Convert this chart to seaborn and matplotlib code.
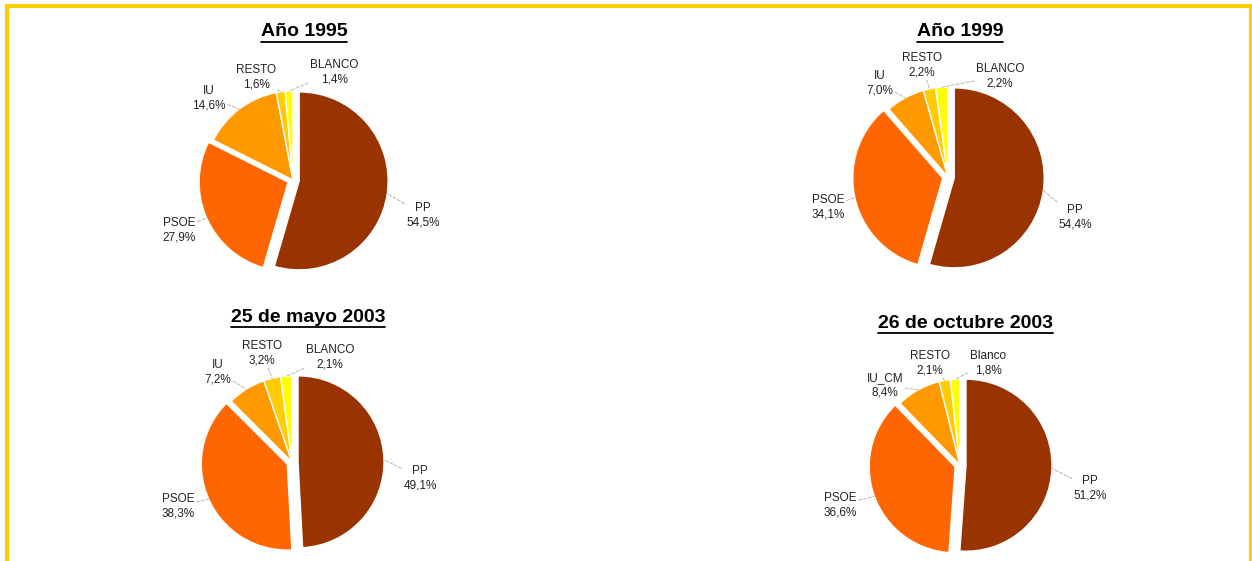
import numpy as np
import matplotlib
matplotlib.use("Agg")
import matplotlib.pyplot as plt
import seaborn as sns
from matplotlib.lines import Line2D
from matplotlib.patches import Rectangle

sns.set_style("white")
plt.rcParams['font.family'] = ['Liberation Sans', 'DejaVu Sans']

# ---- data ----
titles = ["Año 1995", "Año 1999", "25 de mayo 2003", "26 de octubre 2003"]
labels_1995 = ["PP", "PSOE", "IU", "RESTO", "BLANCO"]
values_1995 = [54.5, 27.9, 14.6, 1.6, 1.4]
labels_1999 = ["PP", "PSOE", "IU", "RESTO", "BLANCO"]
values_1999 = [54.4, 34.1, 7.0, 2.2, 2.2]
labels_may03 = ["PP", "PSOE", "IU", "RESTO", "BLANCO"]
values_may03 = [49.1, 38.3, 7.2, 3.2, 2.1]
labels_oct03 = ["PP", "PSOE", "IU_CM", "RESTO", "Blanco"]
values_oct03 = [51.2, 36.6, 8.4, 2.1, 1.8]
colors = ["#993300", "#FF6600", "#FF9900", "#FFCC00", "#FFFF00"]
explode = [0.07, 0.06, 0.0, 0.0, 0.0]

# ---- layout (pixels) ----
W, H = 1252, 561
fig = plt.figure(figsize=(W / 100, H / 100), dpi=100)

# label offsets: (dx right, dy up) in pixels from the pie centre
charts = [
    dict(labels=labels_1995, values=values_1995, center=(293, 180), r=89,
         title_xy=(304, 32),
         lab_off=[(130, -35), (-114, -50), (-84, 82), (-37, 103), (41, 108)]),
    dict(labels=labels_1999, values=values_1999, center=(948, 177), r=90,
         title_xy=(960, 32),
         lab_off=[(127, -40), (-120, -30), (-68, 94), (-26, 112), (52, 101)]),
    dict(labels=labels_may03, values=values_may03, center=(292, 462), r=86,
         title_xy=(308, 317),
         lab_off=[(128, -16), (-114, -44), (-74, 90), (-30, 109), (38, 105)]),
    dict(labels=labels_oct03, values=values_oct03, center=(960, 465), r=86,
         title_xy=(965, 323),
         lab_off=[(130, -23), (-120, -40), (-75, 80), (-30, 102), (28, 102)]),
]

AW, AH = 360, 260
for ch, title in zip(charts, titles):
    cx, cy = ch["center"]
    r = ch["r"]
    ax = fig.add_axes([(cx - AW / 2) / W, 1 - (cy + AH / 2) / H, AW / W, AH / H])
    wedges, _ = ax.pie(ch["values"], colors=colors, explode=explode,
                       startangle=90, counterclock=False,
                       wedgeprops=dict(edgecolor="white", linewidth=1.0))
    ax.set_xlim(-AW / 2 / r, AW / 2 / r)
    ax.set_ylim(-AH / 2 / r, AH / 2 / r)
    ax.set_aspect("equal")
    ax.axis("off")
    for w, lab, val, off, ex in zip(wedges, ch["labels"], ch["values"], ch["lab_off"], explode):
        ang = np.deg2rad((w.theta1 + w.theta2) / 2)
        rr = 1.0 + ex
        xy = (rr * np.cos(ang), rr * np.sin(ang))
        txt = f"{lab}\n{val:.1f}%".replace(".", ",")
        ax.annotate(txt, xy=xy, xytext=(off[0] / r, off[1] / r),
                    ha="center", va="center", fontsize=8.5, color="#222222",
                    linespacing=1.25,
                    bbox=dict(boxstyle="square,pad=0.15", fc="none", ec="none"),
                    arrowprops=dict(arrowstyle="-", color="#AAAAAA", lw=0.6,
                                    shrinkA=0, shrinkB=0, linestyle=(0, (4, 2))),
                    annotation_clip=False)
    tx, ty = ch["title_xy"]
    t = fig.text(tx / W, 1 - ty / H, title, ha="center", va="center",
                 fontsize=14, fontweight="bold", color="black")
    ch["title_obj"] = t

fig.canvas.draw()
renderer = fig.canvas.get_renderer()
for ch in charts:
    bb = ch["title_obj"].get_window_extent(renderer)
    y = bb.y0 - 1.5
    fig.add_artist(Line2D([bb.x0 / W, bb.x1 / W], [y / H, y / H],
                          transform=fig.transFigure, color="black", lw=1.3))

# yellow frame
fig.add_artist(Rectangle((7 / W, -0.2), (1251 - 7) / W, 1.2 - 6 / H,
                         transform=fig.transFigure, fill=False,
                         edgecolor="#FFCC00", lw=3.0))

fig.savefig("out.png", dpi=100)
